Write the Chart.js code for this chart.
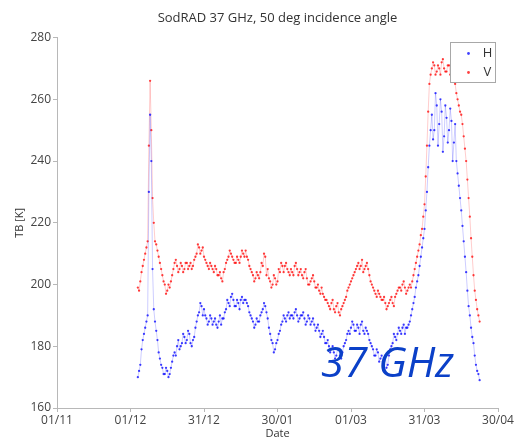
<!DOCTYPE html>
<html>
<head>
<meta charset="utf-8">
<script src="https://cdn.jsdelivr.net/npm/chart.js@4/dist/chart.umd.min.js"></script>
<style>
  html, body { margin: 0; padding: 0; background: #fff; }
  #wrap { width: 520px; height: 439px; }
</style>
</head>
<body>
<div id="wrap"><canvas id="tbChart" width="520" height="439"></canvas></div>
<script>
// days counted from 01/11; two samples per day starting at firstDay
const firstDay = 33;
const tickLabels = ["01/11", "01/12", "31/12", "30/01", "01/03", "31/03", "30/04"];

// brightness temperature [K], horizontal polarisation, whole-day samples
const tbH = [
    170, 174, 182, 186, 190, 255, 205, 188, 182, 176,
    173, 171, 172, 171, 175, 178, 180, 179, 181, 183,
    182, 184, 180, 183, 188, 191, 193, 192, 189, 188,
    189, 188, 187, 188, 187, 189, 192, 194, 196, 195,
    193, 194, 195, 194, 195, 193, 190, 188, 187, 188,
    190, 192, 193, 189, 184, 181, 179, 182, 185, 188,
    189, 190, 189, 190, 191, 190, 189, 190, 189, 188,
    189, 188, 187, 186, 185, 184, 183, 181, 180, 179,
    178, 177, 179, 176, 180, 182, 185, 186, 187, 185,
    186, 187, 185, 186, 184, 181, 179, 177, 178, 176,
    175, 177, 174, 179, 181, 183, 184, 185, 186, 184,
    186, 188, 192, 196, 201, 206, 212, 218, 230, 245,
    255, 250, 258, 252, 256, 248, 254, 250, 253, 246,
    240, 232, 224, 214, 204, 193, 186, 181, 174, 171
];
// horizontal polarisation, half-day samples
const tbH2 = [
    172, 179, 184, 188, 230, 240, 192, 185, 178, 174,
    171, 173, 170, 173, 177, 177, 182, 180, 184, 181,
    185, 181, 182, 186, 190, 194, 190, 190, 187, 190,
    187, 189, 186, 190, 189, 191, 195, 193, 197, 193,
    195, 192, 196, 195, 194, 191, 189, 186, 189, 188,
    191, 194, 191, 186, 182, 178, 181, 184, 187, 190,
    188, 191, 190, 189, 192, 188, 190, 191, 187, 190,
    187, 189, 185, 187, 183, 185, 181, 182, 178, 180,
    176, 179, 177, 178, 181, 184, 184, 188, 185, 187,
    184, 188, 184, 185, 182, 180, 177, 179, 175, 177,
    176, 173, 177, 180, 184, 182, 186, 184, 187, 186,
    187, 190, 194, 199, 203, 209, 215, 224, 238, 250,
    247, 262, 245, 260, 243, 258, 246, 257, 240, 252,
    236, 228, 219, 209, 198, 190, 183, 177, 172, 169
];

// brightness temperature [K], vertical polarisation, whole-day samples
const tbV = [
    199, 201, 206, 210, 214, 266, 228, 214, 211, 207,
    203, 200, 198, 199, 203, 207, 206, 205, 206, 205,
    207, 206, 205, 208, 210, 212, 211, 209, 207, 205,
    206, 204, 205, 203, 202, 204, 207, 209, 210, 208,
    207, 208, 209, 210, 211, 208, 205, 203, 202, 203,
    204, 206, 209, 205, 201, 200, 202, 201, 204, 206,
    206, 205, 203, 204, 206, 205, 204, 203, 204, 202,
    200, 202, 201, 199, 198, 199, 196, 195, 193, 194,
    192, 193, 191, 192, 194, 196, 199, 201, 203, 205,
    207, 206, 204, 206, 205, 201, 199, 197, 198, 196,
    195, 194, 193, 195, 194, 196, 198, 199, 200, 199,
    198, 200, 201, 205, 209, 213, 218, 226, 245, 265,
    270, 271, 269, 270, 272, 270, 269, 271, 270, 268,
    262, 258, 255, 248, 240, 228, 215, 203, 195, 190
];
// vertical polarisation, half-day samples
const tbV2 = [
    198, 204, 208, 212, 245, 250, 220, 213, 209, 205,
    201, 197, 200, 201, 205, 208, 204, 207, 204, 207,
    205, 207, 206, 209, 213, 210, 212, 208, 206, 207,
    205, 206, 203, 204, 201, 205, 208, 211, 209, 207,
    209, 207, 211, 209, 209, 206, 204, 201, 204, 202,
    207, 210, 203, 202, 199, 203, 200, 205, 207, 204,
    207, 204, 205, 203, 207, 203, 205, 202, 205, 200,
    201, 203, 199, 200, 197, 197, 195, 194, 192, 195,
    191, 194, 190, 193, 195, 198, 200, 202, 204, 206,
    205, 208, 205, 207, 203, 200, 198, 196, 197, 195,
    196, 192, 194, 196, 193, 197, 199, 198, 201, 197,
    199, 199, 203, 207, 211, 216, 222, 235, 256, 268,
    272, 268, 271, 268, 273, 269, 271, 268, 272, 265,
    260, 256, 252, 244, 234, 222, 209, 198, 192, 188
];

// interleave whole-day and half-day samples into one series
const toPoints = (whole, half) => whole.flatMap((tb, i) => [
    { x: firstDay + i, y: tb },
    { x: firstDay + i + 0.5, y: half[i] },
]);

const fontFamily = "'Open Sans', sans-serif";
const tickFont = { family: fontFamily, size: 12 };

const overlay = {
    id: "legendAndTag",
    afterDraw(chart) {
        const ctx = chart.ctx;
        const area = chart.chartArea;
        ctx.save();

        // legend box in the upper right corner
        const bx = Math.round(area.right) - 47.5, by = Math.round(area.top) + 4.5;
        ctx.fillStyle = "#fff";
        ctx.strokeStyle = "#a8a8a8";
        ctx.lineWidth = 1;
        ctx.fillRect(bx, by, 45, 40);
        ctx.strokeRect(bx, by, 45, 40);
        chart.data.datasets.forEach((ds, i) => {
            const y = by + 11 + i * 19;
            ctx.fillStyle = ds.pointBackgroundColor;
            ctx.beginPath();
            ctx.arc(bx + 18, y, 1.4, 0, Math.PI * 2);
            ctx.fill();
            ctx.fillStyle = "#333";
            ctx.font = "13px " + fontFamily;
            ctx.textAlign = "center";
            ctx.textBaseline = "middle";
            ctx.fillText(ds.label, bx + 37, y);
        });

        // frequency tag
        ctx.font = "italic 42px " + fontFamily;
        ctx.fillStyle = "#0b40c8";
        ctx.textAlign = "left";
        ctx.textBaseline = "alphabetic";
        ctx.fillText("37 GHz", 321, 377);
        ctx.restore();
    }
};

new Chart(document.getElementById("tbChart"), {
    type: "line",
    data: {
        datasets: [
            {
                label: "H",
                data: toPoints(tbH, tbH2),
                borderColor: "rgba(0, 0, 255, 0.2)",
                borderWidth: 1,
                pointBackgroundColor: "rgba(0, 0, 255, 0.75)",
                pointBorderWidth: 0,
                pointRadius: 1.15,
                tension: 0,
            },
            {
                label: "V",
                data: toPoints(tbV, tbV2),
                borderColor: "rgba(255, 0, 0, 0.2)",
                borderWidth: 1,
                pointBackgroundColor: "rgba(255, 0, 0, 0.75)",
                pointBorderWidth: 0,
                pointRadius: 1.15,
                tension: 0,
            },
        ],
    },
    options: {
        responsive: false,
        animation: false,
        layout: { padding: { left: 0, right: 22, top: 0, bottom: 0 } },
        plugins: {
            legend: { display: false },
            tooltip: { enabled: false },
            title: {
                display: true,
                text: "SodRAD 37 GHz, 50 deg incidence angle",
                fullSize: false,
                color: "#333",
                font: { family: fontFamily, size: 13, weight: "normal" },
                padding: { top: 10, bottom: 12 },
            },
        },
        scales: {
            x: {
                type: "linear",
                min: 0,
                max: 180,
                border: { color: "#b8b8b8" },
                grid: { drawOnChartArea: false, tickLength: 4, color: "#b8b8b8" },
                ticks: {
                    stepSize: 30,
                    autoSkip: false,
                    maxRotation: 0,
                    padding: 1,
                    color: "#444",
                    font: tickFont,
                    callback: v => tickLabels[Math.round(v / 30)],
                },
                title: {
                    display: true,
                    text: "Date",
                    color: "#333",
                    font: { family: fontFamily, size: 11, lineHeight: 1 },
                    padding: 0,
                },
                afterFit: s => { s.height = 31; },
            },
            y: {
                min: 160,
                max: 280,
                border: { color: "#b8b8b8" },
                grid: { drawOnChartArea: false, tickLength: 4, color: "#b8b8b8" },
                ticks: { stepSize: 20, padding: 2, color: "#444", font: tickFont },
                title: {
                    display: true,
                    text: "TB [K]",
                    color: "#333",
                    font: { family: fontFamily, size: 11 },
                    padding: { top: 13, bottom: 0 },
                },
                afterFit: s => { s.width = 57; },
            },
        },
    },
    plugins: [overlay],
});
</script>
</body>
</html>
